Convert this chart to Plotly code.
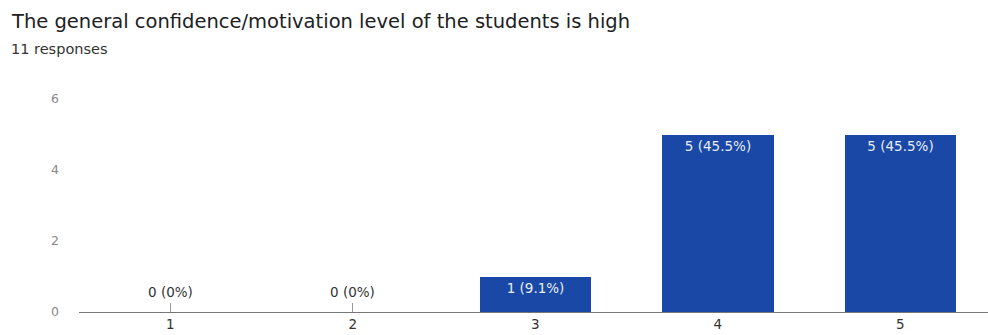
import plotly.graph_objects as go

# Survey answers on a 1-5 scale
categories = [1, 2, 3, 4, 5]
counts = [0, 0, 1, 5, 5]
total = 11
title_text = "The general confidence/motivation level of the students is high"
subtitle_text = "11 responses"
y_ticks = [0, 2, 4, 6]

labels = [f"{c} ({round(c / total * 100, 1):g}%)" for c in counts]

FONT = "DejaVu Sans, Verdana, sans-serif"
bar_color = "#1a48a6"

fig = go.Figure()
fig.add_trace(go.Bar(
    x=categories,
    y=counts,
    width=0.61,
    marker=dict(color=bar_color, line=dict(width=0)),
    text=[lab if c > 0 else "" for lab, c in zip(labels, counts)],
    textposition="inside",
    insidetextanchor="end",
    textangle=0,
    textfont=dict(family=FONT, size=13.5, color="#e8ecf6"),
    hoverinfo="skip",
    cliponaxis=False,
))

# Labels for empty categories sit above the baseline
for cat, c, lab in zip(categories, counts, labels):
    if c == 0:
        fig.add_annotation(
            x=cat, y=c, text=lab, showarrow=False,
            yanchor="bottom", yshift=10,
            font=dict(family=FONT, size=13.5, color="#333333"),
        )

fig.update_layout(
    width=988, height=335,
    margin=dict(l=79, r=0, t=99, b=23),
    paper_bgcolor="white", plot_bgcolor="white",
    showlegend=False,
    bargap=0,
    font=dict(family=FONT),
)

plot_h = 335 - 99 - 23
fig.add_annotation(
    text=title_text, xref="paper", yref="paper",
    x=-70 / 909, y=1 + 77 / plot_h, xanchor="left", yanchor="middle",
    showarrow=False,
    font=dict(family=FONT, size=19.5, color="#202124"),
)
fig.add_annotation(
    text=subtitle_text, xref="paper", yref="paper",
    x=-70 / 909, y=1 + 50 / plot_h, xanchor="left", yanchor="middle",
    showarrow=False,
    font=dict(family=FONT, size=14.5, color="#333333"),
)

fig.update_xaxes(
    range=[0.5, 5.48],
    tickvals=categories, ticktext=[str(c) for c in categories],
    showgrid=False, zeroline=False,
    showline=True, linecolor="#777777", linewidth=1,
    ticks="inside", ticklen=9, tickcolor="#999999", tickwidth=1,
    layer="below traces",
    tickfont=dict(family=FONT, size=13.5, color="#333333"),
    fixedrange=True,
)
fig.update_yaxes(
    range=[0, 6],
    tickvals=y_ticks,
    showgrid=False, zeroline=False, showline=False,
    ticks="", ticklabelstandoff=19,
    tickfont=dict(family=FONT, size=12.5, color="#888888"),
    fixedrange=True,
)

fig.write_html("out.html", config={"displayModeBar": False})
